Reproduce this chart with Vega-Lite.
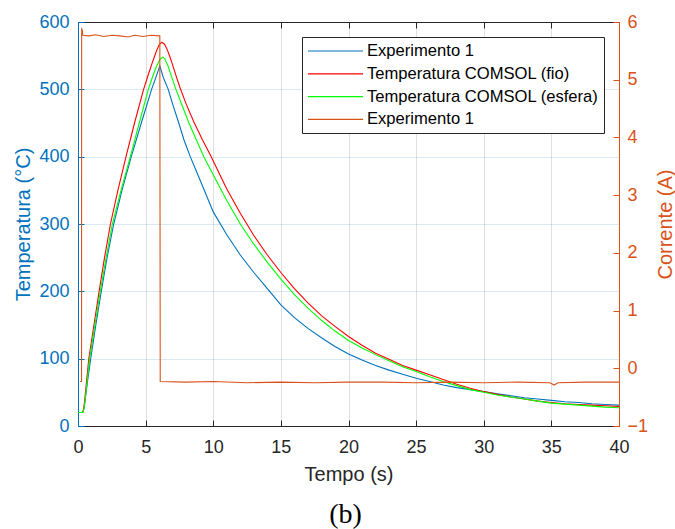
{
  "$schema": "https://vega.github.io/schema/vega-lite/v6.json",
  "autosize": "none",
  "width": 541,
  "height": 404,
  "padding": {"left": 78, "top": 22, "right": 56, "bottom": 103},
  "background": "white",
  "title": {"text": "(b)", "orient": "bottom", "font": "Liberation Serif", "fontSize": 28, "fontWeight": "normal", "color": "black", "offset": 17, "dx": -3},
  "datasets": {
    "temp": [
      {"t": 0, "v": 20, "serie": "Experimento 1"},
      {"t": 0.3, "v": 20, "serie": "Experimento 1"},
      {"t": 0.38, "v": 21, "serie": "Experimento 1"},
      {"t": 0.45, "v": 27, "serie": "Experimento 1"},
      {"t": 0.55, "v": 42, "serie": "Experimento 1"},
      {"t": 0.7, "v": 66, "serie": "Experimento 1"},
      {"t": 0.94, "v": 100, "serie": "Experimento 1"},
      {"t": 1.3, "v": 148, "serie": "Experimento 1"},
      {"t": 1.72, "v": 200, "serie": "Experimento 1"},
      {"t": 2.15, "v": 250, "serie": "Experimento 1"},
      {"t": 2.64, "v": 300, "serie": "Experimento 1"},
      {"t": 3.25, "v": 350, "serie": "Experimento 1"},
      {"t": 3.94, "v": 400, "serie": "Experimento 1"},
      {"t": 4.68, "v": 450, "serie": "Experimento 1"},
      {"t": 5.44, "v": 500, "serie": "Experimento 1"},
      {"t": 5.8, "v": 520, "serie": "Experimento 1"},
      {"t": 6.05, "v": 535, "serie": "Experimento 1"},
      {"t": 6.3, "v": 518, "serie": "Experimento 1"},
      {"t": 6.67, "v": 500, "serie": "Experimento 1"},
      {"t": 7.0, "v": 478, "serie": "Experimento 1"},
      {"t": 7.45, "v": 450, "serie": "Experimento 1"},
      {"t": 7.85, "v": 424, "serie": "Experimento 1"},
      {"t": 8.3, "v": 400, "serie": "Experimento 1"},
      {"t": 8.8, "v": 376, "serie": "Experimento 1"},
      {"t": 9.3, "v": 352, "serie": "Experimento 1"},
      {"t": 10, "v": 318, "serie": "Experimento 1"},
      {"t": 11, "v": 284, "serie": "Experimento 1"},
      {"t": 12, "v": 254, "serie": "Experimento 1"},
      {"t": 13, "v": 228, "serie": "Experimento 1"},
      {"t": 14, "v": 204, "serie": "Experimento 1"},
      {"t": 15, "v": 180, "serie": "Experimento 1"},
      {"t": 16, "v": 161, "serie": "Experimento 1"},
      {"t": 17, "v": 145, "serie": "Experimento 1"},
      {"t": 18, "v": 131, "serie": "Experimento 1"},
      {"t": 19, "v": 118, "serie": "Experimento 1"},
      {"t": 20, "v": 107, "serie": "Experimento 1"},
      {"t": 21, "v": 98, "serie": "Experimento 1"},
      {"t": 22, "v": 90, "serie": "Experimento 1"},
      {"t": 23, "v": 83, "serie": "Experimento 1"},
      {"t": 24, "v": 77, "serie": "Experimento 1"},
      {"t": 25, "v": 71, "serie": "Experimento 1"},
      {"t": 26, "v": 66, "serie": "Experimento 1"},
      {"t": 27, "v": 61, "serie": "Experimento 1"},
      {"t": 28, "v": 57, "serie": "Experimento 1"},
      {"t": 29, "v": 54, "serie": "Experimento 1"},
      {"t": 30, "v": 51, "serie": "Experimento 1"},
      {"t": 31, "v": 48, "serie": "Experimento 1"},
      {"t": 32, "v": 45, "serie": "Experimento 1"},
      {"t": 33, "v": 42, "serie": "Experimento 1"},
      {"t": 34, "v": 40, "serie": "Experimento 1"},
      {"t": 35, "v": 38, "serie": "Experimento 1"},
      {"t": 36, "v": 36, "serie": "Experimento 1"},
      {"t": 37, "v": 35, "serie": "Experimento 1"},
      {"t": 38, "v": 33, "serie": "Experimento 1"},
      {"t": 39, "v": 32, "serie": "Experimento 1"},
      {"t": 40, "v": 31, "serie": "Experimento 1"},

      {"t": 0, "v": 20, "serie": "Temperatura COMSOL (fio)"},
      {"t": 0.33, "v": 20, "serie": "Temperatura COMSOL (fio)"},
      {"t": 0.39, "v": 23, "serie": "Temperatura COMSOL (fio)"},
      {"t": 0.47, "v": 33, "serie": "Temperatura COMSOL (fio)"},
      {"t": 0.6, "v": 60, "serie": "Temperatura COMSOL (fio)"},
      {"t": 0.8, "v": 100, "serie": "Temperatura COMSOL (fio)"},
      {"t": 1.18, "v": 150, "serie": "Temperatura COMSOL (fio)"},
      {"t": 1.56, "v": 200, "serie": "Temperatura COMSOL (fio)"},
      {"t": 1.96, "v": 250, "serie": "Temperatura COMSOL (fio)"},
      {"t": 2.4, "v": 300, "serie": "Temperatura COMSOL (fio)"},
      {"t": 2.95, "v": 350, "serie": "Temperatura COMSOL (fio)"},
      {"t": 3.55, "v": 400, "serie": "Temperatura COMSOL (fio)"},
      {"t": 4.18, "v": 450, "serie": "Temperatura COMSOL (fio)"},
      {"t": 4.85, "v": 500, "serie": "Temperatura COMSOL (fio)"},
      {"t": 5.2, "v": 522, "serie": "Temperatura COMSOL (fio)"},
      {"t": 5.5, "v": 540, "serie": "Temperatura COMSOL (fio)"},
      {"t": 5.8, "v": 557, "serie": "Temperatura COMSOL (fio)"},
      {"t": 6.0, "v": 566, "serie": "Temperatura COMSOL (fio)"},
      {"t": 6.2, "v": 570, "serie": "Temperatura COMSOL (fio)"},
      {"t": 6.4, "v": 567, "serie": "Temperatura COMSOL (fio)"},
      {"t": 6.6, "v": 559, "serie": "Temperatura COMSOL (fio)"},
      {"t": 6.8, "v": 548, "serie": "Temperatura COMSOL (fio)"},
      {"t": 7.0, "v": 536, "serie": "Temperatura COMSOL (fio)"},
      {"t": 7.3, "v": 517, "serie": "Temperatura COMSOL (fio)"},
      {"t": 7.55, "v": 502, "serie": "Temperatura COMSOL (fio)"},
      {"t": 8.0, "v": 478, "serie": "Temperatura COMSOL (fio)"},
      {"t": 8.6, "v": 450, "serie": "Temperatura COMSOL (fio)"},
      {"t": 9.2, "v": 425, "serie": "Temperatura COMSOL (fio)"},
      {"t": 9.85, "v": 400, "serie": "Temperatura COMSOL (fio)"},
      {"t": 10.4, "v": 377, "serie": "Temperatura COMSOL (fio)"},
      {"t": 11, "v": 352, "serie": "Temperatura COMSOL (fio)"},
      {"t": 12, "v": 316, "serie": "Temperatura COMSOL (fio)"},
      {"t": 13, "v": 283, "serie": "Temperatura COMSOL (fio)"},
      {"t": 14, "v": 254, "serie": "Temperatura COMSOL (fio)"},
      {"t": 15, "v": 228, "serie": "Temperatura COMSOL (fio)"},
      {"t": 16, "v": 204, "serie": "Temperatura COMSOL (fio)"},
      {"t": 17, "v": 183, "serie": "Temperatura COMSOL (fio)"},
      {"t": 18, "v": 164, "serie": "Temperatura COMSOL (fio)"},
      {"t": 19, "v": 148, "serie": "Temperatura COMSOL (fio)"},
      {"t": 20, "v": 133, "serie": "Temperatura COMSOL (fio)"},
      {"t": 21, "v": 120, "serie": "Temperatura COMSOL (fio)"},
      {"t": 22, "v": 108, "serie": "Temperatura COMSOL (fio)"},
      {"t": 23, "v": 99, "serie": "Temperatura COMSOL (fio)"},
      {"t": 24, "v": 90, "serie": "Temperatura COMSOL (fio)"},
      {"t": 25, "v": 83, "serie": "Temperatura COMSOL (fio)"},
      {"t": 26, "v": 76, "serie": "Temperatura COMSOL (fio)"},
      {"t": 27, "v": 69, "serie": "Temperatura COMSOL (fio)"},
      {"t": 28, "v": 62, "serie": "Temperatura COMSOL (fio)"},
      {"t": 29, "v": 56, "serie": "Temperatura COMSOL (fio)"},
      {"t": 30, "v": 51, "serie": "Temperatura COMSOL (fio)"},
      {"t": 31, "v": 47, "serie": "Temperatura COMSOL (fio)"},
      {"t": 32, "v": 43, "serie": "Temperatura COMSOL (fio)"},
      {"t": 33, "v": 40, "serie": "Temperatura COMSOL (fio)"},
      {"t": 34, "v": 37, "serie": "Temperatura COMSOL (fio)"},
      {"t": 35, "v": 35, "serie": "Temperatura COMSOL (fio)"},
      {"t": 36, "v": 33, "serie": "Temperatura COMSOL (fio)"},
      {"t": 37, "v": 32, "serie": "Temperatura COMSOL (fio)"},
      {"t": 38, "v": 31, "serie": "Temperatura COMSOL (fio)"},
      {"t": 39, "v": 30, "serie": "Temperatura COMSOL (fio)"},
      {"t": 40, "v": 29, "serie": "Temperatura COMSOL (fio)"},

      {"t": 0, "v": 20, "serie": "Temperatura COMSOL (esfera)"},
      {"t": 0.35, "v": 20, "serie": "Temperatura COMSOL (esfera)"},
      {"t": 0.41, "v": 23, "serie": "Temperatura COMSOL (esfera)"},
      {"t": 0.49, "v": 32, "serie": "Temperatura COMSOL (esfera)"},
      {"t": 0.63, "v": 58, "serie": "Temperatura COMSOL (esfera)"},
      {"t": 0.86, "v": 100, "serie": "Temperatura COMSOL (esfera)"},
      {"t": 1.25, "v": 150, "serie": "Temperatura COMSOL (esfera)"},
      {"t": 1.65, "v": 200, "serie": "Temperatura COMSOL (esfera)"},
      {"t": 2.08, "v": 250, "serie": "Temperatura COMSOL (esfera)"},
      {"t": 2.54, "v": 300, "serie": "Temperatura COMSOL (esfera)"},
      {"t": 3.18, "v": 350, "serie": "Temperatura COMSOL (esfera)"},
      {"t": 3.87, "v": 400, "serie": "Temperatura COMSOL (esfera)"},
      {"t": 4.53, "v": 450, "serie": "Temperatura COMSOL (esfera)"},
      {"t": 5.2, "v": 500, "serie": "Temperatura COMSOL (esfera)"},
      {"t": 5.5, "v": 518, "serie": "Temperatura COMSOL (esfera)"},
      {"t": 5.8, "v": 534, "serie": "Temperatura COMSOL (esfera)"},
      {"t": 6.05, "v": 544, "serie": "Temperatura COMSOL (esfera)"},
      {"t": 6.28, "v": 548, "serie": "Temperatura COMSOL (esfera)"},
      {"t": 6.45, "v": 544, "serie": "Temperatura COMSOL (esfera)"},
      {"t": 6.65, "v": 535, "serie": "Temperatura COMSOL (esfera)"},
      {"t": 6.9, "v": 520, "serie": "Temperatura COMSOL (esfera)"},
      {"t": 7.24, "v": 500, "serie": "Temperatura COMSOL (esfera)"},
      {"t": 7.7, "v": 476, "serie": "Temperatura COMSOL (esfera)"},
      {"t": 8.2, "v": 450, "serie": "Temperatura COMSOL (esfera)"},
      {"t": 8.75, "v": 425, "serie": "Temperatura COMSOL (esfera)"},
      {"t": 9.3, "v": 400, "serie": "Temperatura COMSOL (esfera)"},
      {"t": 10, "v": 373, "serie": "Temperatura COMSOL (esfera)"},
      {"t": 11, "v": 335, "serie": "Temperatura COMSOL (esfera)"},
      {"t": 12, "v": 300, "serie": "Temperatura COMSOL (esfera)"},
      {"t": 13, "v": 270, "serie": "Temperatura COMSOL (esfera)"},
      {"t": 14, "v": 243, "serie": "Temperatura COMSOL (esfera)"},
      {"t": 15, "v": 218, "serie": "Temperatura COMSOL (esfera)"},
      {"t": 16, "v": 195, "serie": "Temperatura COMSOL (esfera)"},
      {"t": 17, "v": 175, "serie": "Temperatura COMSOL (esfera)"},
      {"t": 18, "v": 157, "serie": "Temperatura COMSOL (esfera)"},
      {"t": 19, "v": 141, "serie": "Temperatura COMSOL (esfera)"},
      {"t": 20, "v": 127, "serie": "Temperatura COMSOL (esfera)"},
      {"t": 21, "v": 116, "serie": "Temperatura COMSOL (esfera)"},
      {"t": 22, "v": 106, "serie": "Temperatura COMSOL (esfera)"},
      {"t": 23, "v": 97, "serie": "Temperatura COMSOL (esfera)"},
      {"t": 24, "v": 88, "serie": "Temperatura COMSOL (esfera)"},
      {"t": 25, "v": 81, "serie": "Temperatura COMSOL (esfera)"},
      {"t": 26, "v": 73, "serie": "Temperatura COMSOL (esfera)"},
      {"t": 27, "v": 66, "serie": "Temperatura COMSOL (esfera)"},
      {"t": 28, "v": 60, "serie": "Temperatura COMSOL (esfera)"},
      {"t": 29, "v": 54, "serie": "Temperatura COMSOL (esfera)"},
      {"t": 30, "v": 50, "serie": "Temperatura COMSOL (esfera)"},
      {"t": 31, "v": 46, "serie": "Temperatura COMSOL (esfera)"},
      {"t": 32, "v": 43, "serie": "Temperatura COMSOL (esfera)"},
      {"t": 33, "v": 40, "serie": "Temperatura COMSOL (esfera)"},
      {"t": 34, "v": 37, "serie": "Temperatura COMSOL (esfera)"},
      {"t": 35, "v": 34, "serie": "Temperatura COMSOL (esfera)"},
      {"t": 36, "v": 32.5, "serie": "Temperatura COMSOL (esfera)"},
      {"t": 37, "v": 31, "serie": "Temperatura COMSOL (esfera)"},
      {"t": 38, "v": 29.5, "serie": "Temperatura COMSOL (esfera)"},
      {"t": 39, "v": 28, "serie": "Temperatura COMSOL (esfera)"},
      {"t": 40, "v": 27, "serie": "Temperatura COMSOL (esfera)"}
    ],
    "corrente": [
      {"t": 0.15, "v": -0.23, "serie": "Experimento  1"},
      {"t": 0.26, "v": -0.23, "serie": "Experimento  1"},
      {"t": 0.27, "v": 5.88, "serie": "Experimento  1"},
      {"t": 0.32, "v": 5.86, "serie": "Experimento  1"},
      {"t": 0.36, "v": 5.77, "serie": "Experimento  1"},
      {"t": 0.8, "v": 5.76, "serie": "Experimento  1"},
      {"t": 1.3, "v": 5.78, "serie": "Experimento  1"},
      {"t": 1.9, "v": 5.75, "serie": "Experimento  1"},
      {"t": 2.5, "v": 5.77, "serie": "Experimento  1"},
      {"t": 3.1, "v": 5.76, "serie": "Experimento  1"},
      {"t": 3.7, "v": 5.74, "serie": "Experimento  1"},
      {"t": 4.2, "v": 5.77, "serie": "Experimento  1"},
      {"t": 4.8, "v": 5.75, "serie": "Experimento  1"},
      {"t": 5.4, "v": 5.77, "serie": "Experimento  1"},
      {"t": 6.05, "v": 5.76, "serie": "Experimento  1"},
      {"t": 6.08, "v": -0.23, "serie": "Experimento  1"},
      {"t": 8, "v": -0.24, "serie": "Experimento  1"},
      {"t": 10, "v": -0.23, "serie": "Experimento  1"},
      {"t": 12.5, "v": -0.25, "serie": "Experimento  1"},
      {"t": 15, "v": -0.24, "serie": "Experimento  1"},
      {"t": 17.5, "v": -0.25, "serie": "Experimento  1"},
      {"t": 20, "v": -0.24, "serie": "Experimento  1"},
      {"t": 22.5, "v": -0.24, "serie": "Experimento  1"},
      {"t": 25, "v": -0.25, "serie": "Experimento  1"},
      {"t": 27.5, "v": -0.24, "serie": "Experimento  1"},
      {"t": 30, "v": -0.25, "serie": "Experimento  1"},
      {"t": 32.5, "v": -0.24, "serie": "Experimento  1"},
      {"t": 34.9, "v": -0.25, "serie": "Experimento  1"},
      {"t": 35.2, "v": -0.29, "serie": "Experimento  1"},
      {"t": 35.5, "v": -0.25, "serie": "Experimento  1"},
      {"t": 37.5, "v": -0.24, "serie": "Experimento  1"},
      {"t": 40, "v": -0.24, "serie": "Experimento  1"}
    ]
  },
  "config": {
    "view": {"stroke": null},
    "axis": {
      "labelFont": "Liberation Sans",
      "titleFont": "Liberation Sans",
      "labelFontSize": 18,
      "titleFontSize": 20,
      "titleFontWeight": "normal",
      "domainWidth": 1,
      "tickWidth": 1
    },
    "legend": {
      "labelFont": "Liberation Sans",
      "labelFontSize": 16.6,
      "labelColor": "#000000",
      "labelLimit": 400
    }
  },
  "resolve": {
    "scale": {"y": "independent"},
    "axis": {"x": "independent", "y": "independent"}
  },
  "layer": [
    {
      "data": {"name": "temp"},
      "mark": {"type": "line", "strokeWidth": 1.1},
      "encoding": {
        "x": {
          "field": "t", "type": "quantitative",
          "scale": {"domain": [0, 40], "nice": false, "zero": false},
          "axis": {
            "orient": "bottom", "title": "Tempo (s)", "values": [0, 5, 10, 15, 20, 25, 30, 35, 40],
            "domainColor": "#262626", "tickColor": "#262626", "labelColor": "#262626", "titleColor": "#262626",
            "tickSize": -6, "labelPadding": 18, "labelFlush": false,
            "grid": true, "gridColor": "#262626", "gridOpacity": 0.15,
            "titleY": 48, "titleBaseline": "middle"
          }
        },
        "y": {
          "field": "v", "type": "quantitative",
          "scale": {"domain": [0, 600], "nice": false, "zero": false},
          "axis": {
            "orient": "left", "title": "Temperatura (°C)", "values": [0, 100, 200, 300, 400, 500, 600],
            "domainColor": "#0072BD", "tickColor": "#0072BD", "labelColor": "#0072BD", "titleColor": "#0072BD",
            "tickSize": -6, "labelPadding": 15, "labelFlush": false,
            "grid": true, "gridColor": "#0072BD", "gridOpacity": 0.15,
            "titleAngle": 270, "titleX": -55, "titleY": 202, "titleAlign": "center", "titleBaseline": "middle"
          }
        },
        "color": {
          "field": "serie", "type": "nominal",
          "scale": {
            "domain": ["Experimento 1", "Temperatura COMSOL (fio)", "Temperatura COMSOL (esfera)", "Experimento  1"],
            "range": ["#0072BD", "#FF0000", "#00FF00", "#D95319"]
          },
          "legend": {
            "title": null, "orient": "none", "legendX": 224, "legendY": 15,
            "symbolType": "M-3.44,0H3.44", "symbolSize": 256, "symbolStrokeWidth": 1.2,
            "symbolOffset": 19.5, "labelOffset": 22.5, "rowPadding": 4.8, "padding": 5,
            "fillColor": "white", "strokeColor": "#262626"
          }
        }
      }
    },
    {
      "data": {"name": "corrente"},
      "mark": {"type": "line", "strokeWidth": 1.1},
      "encoding": {
        "x": {"field": "t", "type": "quantitative", "axis": null},
        "y": {
          "field": "v", "type": "quantitative",
          "scale": {"domain": [-1, 6], "nice": false, "zero": false},
          "axis": {
            "orient": "right", "title": "Corrente (A)", "values": [-1, 0, 1, 2, 3, 4, 5, 6],
            "domainColor": "#D95319", "tickColor": "#D95319", "labelColor": "#D95319", "titleColor": "#D95319",
            "tickSize": -6, "labelPadding": 14, "labelFlush": false, "grid": false,
            "titleAngle": 270, "titleX": 46, "titleY": 202, "titleAlign": "center", "titleBaseline": "middle"
          }
        },
        "color": {"field": "serie", "type": "nominal"}
      }
    },
    {
      "data": {"name": "temp"},
      "mark": {"type": "line", "opacity": 0},
      "encoding": {
        "x": {
          "field": "t", "type": "quantitative",
          "axis": {
            "orient": "top", "title": null, "labels": false, "values": [0, 5, 10, 15, 20, 25, 30, 35, 40],
            "domainColor": "#262626", "tickColor": "#262626", "tickSize": -6, "grid": false
          }
        },
        "y": {"field": "v", "type": "quantitative", "scale": {"domain": [0, 600], "nice": false}, "axis": null},
        "detail": {"field": "serie", "type": "nominal"}
      }
    }
  ]
}
